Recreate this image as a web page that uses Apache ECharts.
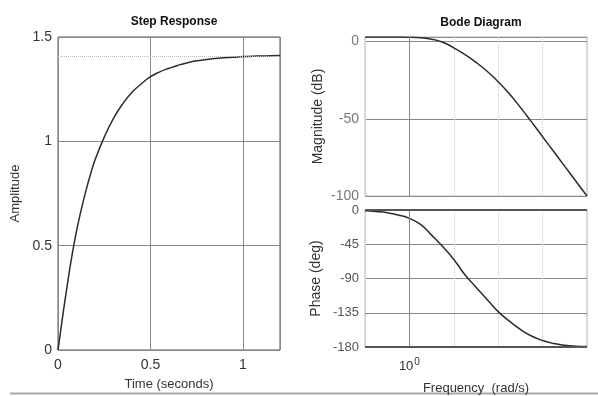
<!DOCTYPE html>
<html>
<head>
<meta charset="utf-8">
<script src="https://cdn.jsdelivr.net/npm/echarts@6/dist/echarts.min.js"></script>
<style>
  html, body { margin: 0; padding: 0; background: #fff; }
  #chart { width: 598px; height: 396px; }
</style>
</head>
<body>
<div id="chart"></div>
<script>
// step response
const stepTime = [0, 0.025, 0.05, 0.075, 0.1, 0.125, 0.15, 0.175, 0.2, 0.25, 0.3, 0.35, 0.4, 0.45, 0.5, 0.55, 0.6, 0.65, 0.7, 0.75, 0.8, 0.85, 0.9, 0.95, 1.0, 1.05, 1.1, 1.15, 1.2];
const stepAmp  = [0, 0.16, 0.31, 0.45, 0.57, 0.67, 0.76, 0.84, 0.91, 1.02, 1.11, 1.18, 1.235, 1.275, 1.31, 1.333, 1.35, 1.365, 1.377, 1.386, 1.392, 1.397, 1.40, 1.403, 1.406, 1.408, 1.409, 1.410, 1.411];
const steadyState = 1.414;

// bode magnitude (quarter-decade steps)
const magFreq = [0.1, 0.178, 0.316, 0.562, 1, 1.78, 3.16, 5.62, 10, 17.8, 31.6, 56.2, 100, 178, 316, 562, 1000, 1780, 3160, 5620, 10000];
const magDb   = [3.0, 3.0, 2.99, 2.95, 2.85, 2.5, 1.6, -0.4, -4.0, -8.4, -13.4, -19.2, -26, -33.8, -42.6, -52, -61.6, -71.2, -80.8, -90.4, -100];

// bode phase
const phaseFreq = [0.1, 0.178, 0.316, 0.562, 1, 1.78, 3.16, 5.62, 10, 17.8, 31.6, 56.2, 100, 178, 316, 562, 1000, 1780, 3160, 5620, 10000];
const phaseDeg  = [-1, -2, -3.5, -6.5, -11, -19, -33, -48, -65, -85, -101.5, -117.5, -133.5, -146, -157, -165.5, -171.5, -175.5, -177.8, -179, -179.5];

const stepXTicks = [0, 0.5, 1];
const stepYTicks = [0, 0.5, 1, 1.5];
const magTicks = [0, -50, -100];
const phaseTicks = [0, -45, -90, -135, -180];

const pairs = (xs, ys) => xs.map((x, i) => [x, ys[i]]);
const near = (v, list) => list.some(t => Math.abs(t - v) < 1e-6);

const font = 'Liberation Sans, Arial, sans-serif';
const curve = { color: '#2b2b2b', width: 1.5 };

const chart = echarts.init(document.getElementById('chart'), null, { renderer: 'canvas' });

const option = {
  backgroundColor: '#fff',
  animation: false,
  title: [
    { text: 'Step Response', left: 169, top: 11, textAlign: 'center',
      textStyle: { fontFamily: font, fontSize: 12, fontWeight: 'bold', color: '#111' } },
    { text: 'Bode Diagram', left: 476, top: 12, textAlign: 'center',
      textStyle: { fontFamily: font, fontSize: 12, fontWeight: 'bold', color: '#111' } }
  ],
  grid: [
    { left: 58, top: 37, width: 222, height: 314, show: true, borderColor: '#555', borderWidth: 1, backgroundColor: '#fff' },
    { left: 365, top: 37, width: 222, height: 159, show: true, borderColor: '#bbb', borderWidth: 1, backgroundColor: '#fff' },
    { left: 365, top: 210, width: 222, height: 140, show: true, borderColor: '#bbb', borderWidth: 1, backgroundColor: '#fff' }
  ],
  xAxis: [
    {
      gridIndex: 0, type: 'value', min: 0, max: 1.2, interval: 0.5,
      name: 'Time (seconds)', nameLocation: 'middle', nameGap: 28,
      nameTextStyle: { fontFamily: font, fontSize: 13, color: '#333' },
      axisLine: { show: false }, axisTick: { show: false },
      axisLabel: { fontFamily: font, fontSize: 14, color: '#333', margin: 8,
        formatter: v => near(v, stepXTicks) ? String(v) : '' },
      splitLine: { lineStyle: { color: '#888', width: 1 } }
    },
    {
      gridIndex: 1, type: 'log', logBase: 10, min: 0.1, max: 10000,
      axisLine: { show: false }, axisTick: { show: false }, axisLabel: { show: false },
      splitLine: { lineStyle: { color: '#ccc', type: 'dotted', width: 1 } }
    },
    {
      gridIndex: 2, type: 'log', logBase: 10, min: 0.1, max: 10000,
      name: 'Frequency  (rad/s)', nameLocation: 'middle', nameGap: 35,
      nameTextStyle: { fontFamily: font, fontSize: 13, color: '#333' },
      axisLine: { show: false }, axisTick: { show: false },
      axisLabel: {
        margin: 10,
        formatter: v => Math.abs(Math.log10(v)) < 1e-6 ? '{b|10}{s|0}' : '',
        rich: {
          b: { fontFamily: font, fontSize: 13, color: '#333', lineHeight: 16 },
          s: { fontFamily: font, fontSize: 10, color: '#333', verticalAlign: 'top', padding: [0, 0, 8, 1] }
        }
      },
      splitLine: { lineStyle: { color: '#ccc', type: 'dotted', width: 1 } }
    }
  ],
  yAxis: [
    {
      gridIndex: 0, type: 'value', min: 0, max: 1.5, interval: 0.5,
      name: 'Amplitude', nameLocation: 'middle', nameGap: 36,
      nameTextStyle: { fontFamily: font, fontSize: 13, color: '#333' },
      axisLine: { show: false }, axisTick: { show: false },
      axisLabel: { fontFamily: font, fontSize: 14, color: '#333', margin: 6,
        formatter: v => near(v, stepYTicks) ? String(v) : '' },
      splitLine: { lineStyle: { color: '#888', width: 1 } }
    },
    {
      gridIndex: 1, type: 'value', min: -100, max: 3, interval: 50,
      name: 'Magnitude (dB)', nameLocation: 'middle', nameGap: 40,
      nameTextStyle: { fontFamily: font, fontSize: 14, color: '#333' },
      axisLine: { show: false }, axisTick: { show: false },
      axisLabel: { fontFamily: font, fontSize: 14, color: '#777', margin: 6,
        formatter: v => near(v, magTicks) ? String(v) : '' },
      splitLine: { lineStyle: { color: '#888', width: 1 } }
    },
    {
      gridIndex: 2, type: 'value', min: -180, max: 0, interval: 45,
      name: 'Phase (deg)', nameLocation: 'middle', nameGap: 42,
      nameTextStyle: { fontFamily: font, fontSize: 14, color: '#333' },
      axisLine: { show: false }, axisTick: { show: false },
      axisLabel: { fontFamily: font, fontSize: 13, color: '#555', margin: 6,
        formatter: v => near(v, phaseTicks) ? String(v) : '' },
      splitLine: { lineStyle: { color: '#888', width: 1 } }
    }
  ],
  series: [
    {
      type: 'line', xAxisIndex: 0, yAxisIndex: 0, data: pairs(stepTime, stepAmp),
      smooth: 0.5, showSymbol: false, lineStyle: curve, silent: true,
      markLine: {
        silent: true, symbol: 'none', label: { show: false },
        lineStyle: { color: '#bbb', type: 'dotted', width: 1 },
        data: [{ yAxis: steadyState }]
      }
    },
    {
      type: 'line', xAxisIndex: 1, yAxisIndex: 1, data: pairs(magFreq, magDb),
      smooth: 0.5, showSymbol: false, lineStyle: curve, silent: true,
      markLine: {
        silent: true, symbol: 'none', label: { show: false },
        lineStyle: { color: '#888', type: 'solid', width: 1 },
        data: [{ xAxis: 1 }]
      }
    },
    {
      type: 'line', xAxisIndex: 2, yAxisIndex: 2, data: pairs(phaseFreq, phaseDeg),
      smooth: 0.5, showSymbol: false, lineStyle: curve, silent: true,
      markLine: {
        silent: true, symbol: 'none', label: { show: false },
        lineStyle: { color: '#888', type: 'solid', width: 1 },
        data: [{ xAxis: 1 }, { yAxis: 0, lineStyle: { color: '#555', width: 2 } }, { yAxis: -180, lineStyle: { color: '#555', width: 2 } }]
      }
    }
  ],
  graphic: [
    { type: 'line', shape: { x1: 10, y1: 393.5, x2: 598, y2: 393.5 }, style: { stroke: '#aaa', lineWidth: 2 }, silent: true }
  ]
};

chart.setOption(option);
</script>
</body>
</html>
